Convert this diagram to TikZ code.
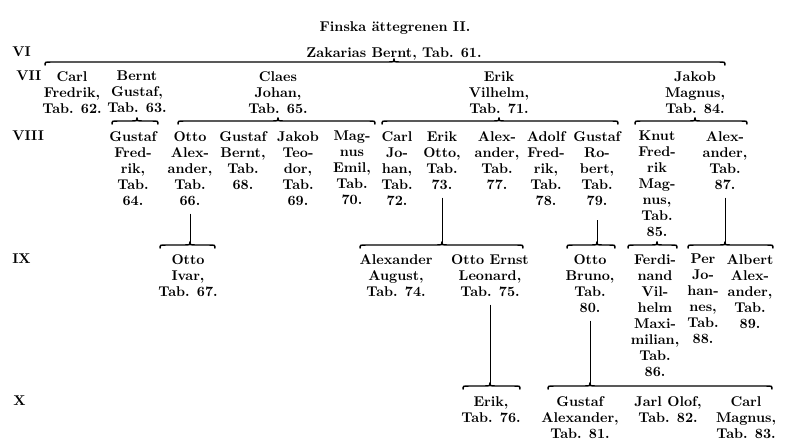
\documentclass[tikz,border=0pt]{standalone}
\usepackage{fontspec}
\usetikzlibrary{calc}
% brace from #2 to #3 at height #4, tip under parent #1
\newcommand\kinbrace[4]{%
  \coordinate (#1-bar) at (0,#4);
  \coordinate (#1-mid) at (#1 |- #1-bar);
  \coordinate (#1-tip) at ($(#1-mid)+(0,-3.5)$);
  \draw[brc] (#2,#4+3.5) .. controls (#2,#4) .. (#2+6,#4)
    -- ($(#1-mid)+(-6,0)$) .. controls (#1-mid) .. (#1-tip)
    .. controls (#1-mid) .. ($(#1-mid)+(6,0)$)
    -- (#3-6,#4) .. controls (#3,#4) .. (#3,#4+3.5);}
\begin{document}
\begin{tikzpicture}[x=0.75pt,y=-0.75pt,
  p/.style={align=center,anchor=north,inner sep=0pt,font=\fontsize{10.6}{12}\selectfont\bfseries},
  gen/.style={anchor=north west,inner sep=0pt,font=\fontsize{10.6}{12}\selectfont\bfseries},
  brc/.style={line width=1.1pt},
  ln/.style={line width=.6pt,shorten <=6pt}]
\useasboundingbox (0,0) rectangle (800,447);
\node[p] (title) at (395,21) {Finska ättegrenen II.};
\node[gen] (g6) at (12,47) {VI};
\node[gen] (g7) at (16,71) {VII};
\node[gen] (g8) at (12,131) {VIII};
\node[gen] (g9) at (12,254) {IX};
\node[gen] (g10) at (13,396) {X};
\node[p] (t61) at (394,47) {Zakarias Bernt, Tab. 61.};
% VII
\node[p] (t62) at (72,71) {Carl\\Fredrik,\\Tab. 62.};
\node[p] (t63) at (137,71) {Bernt\\Gustaf,\\Tab. 63.};
\node[p] (t65) at (278,71) {Claes\\Johan,\\Tab. 65.};
\node[p] (t71) at (499,71) {Erik\\Vilhelm,\\Tab. 71.};
\node[p] (t84) at (695,71) {Jakob\\Magnus,\\Tab. 84.};
% VIII
\node[p] (t64) at (133,131) {Gustaf\\Fred-\\rik,\\Tab.\\64.};
\node[p] (t66) at (190,131) {Otto\\Alex-\\ander,\\Tab.\\66.};
\node[p] (t68) at (243,131) {Gustaf\\Bernt,\\Tab.\\68.};
\node[p] (t69) at (298,131) {Jakob\\Teo-\\dor,\\Tab.\\69.};
\node[p] (t70) at (352,131) {Mag-\\nus\\Emil,\\Tab.\\70.};
\node[p] (t72) at (397,131) {Carl\\Jo-\\han,\\Tab.\\72.};
\node[p] (t73) at (442,131) {Erik\\Otto,\\Tab.\\73.};
\node[p] (t77) at (497,131) {Alex-\\ander,\\Tab.\\77.};
\node[p] (t78) at (546,131) {Adolf\\Fred-\\rik,\\Tab.\\78.};
\node[p] (t79) at (597,131) {Gustaf\\Ro-\\bert,\\Tab.\\79.};
\node[p] (t85) at (657,131) {Knut\\Fred-\\rik\\Mag-\\nus,\\Tab.\\85.};
\node[p] (t87) at (725,131) {Alex-\\ander,\\Tab.\\87.};
% IX
\node[p] (t67) at (188,254) {Otto\\Ivar,\\Tab. 67.};
\node[p] (t74) at (396,254) {Alexander\\August,\\Tab. 74.};
\node[p] (t75) at (490,254) {Otto Ernst\\Leonard,\\Tab. 75.};
\node[p] (t80) at (590,254) {Otto\\Bruno,\\Tab.\\80.};
\node[p] (t86) at (655,254) {Ferdi-\\nand\\Vil-\\helm\\Maxi-\\milian,\\Tab.\\86.};
\node[p] (t88) at (703,254) {Per\\Jo-\\han-\\nes,\\Tab.\\88.};
\node[p] (t89) at (750,254) {Albert\\Alex-\\ander,\\Tab.\\89.};
% X
\node[p] (t76) at (491,396) {Erik,\\Tab. 76.};
\node[p] (t81) at (580,396) {Gustaf\\Alexander,\\Tab. 81.};
\node[p] (t82) at (668,396) {Jarl Olof,\\Tab. 82.};
\node[p] (t83) at (746,396) {Carl\\Magnus,\\Tab. 83.};
% braces
\kinbrace{t61}{45}{725}{62}
\kinbrace{t63}{112}{158}{121}
\kinbrace{t65}{178}{375}{121}
\kinbrace{t71}{382}{618}{121}
\kinbrace{t84}{635}{747}{121}
\kinbrace{t66}{160}{215}{245}
\kinbrace{t73}{360}{523}{245}
\kinbrace{t79}{567}{615}{245}
\kinbrace{t85}{628}{677}{245}
\kinbrace{t87}{688}{773}{245}
\kinbrace{t75}{463}{520}{386}
\kinbrace{t80}{548}{772}{386}
% lines
\draw[ln] (t66.south) -- (t66-tip);
\draw[ln] (t73.south) -- (t73-tip);
\draw[ln,shorten <=11pt] (t79.south) -- (t79-tip);
\draw[ln] (t87.south) -- (t87-tip);
\draw[ln] (t75.south) -- (t75-tip);
\draw[ln] (t80.south) -- (t80-tip);
\end{tikzpicture}
\end{document}
